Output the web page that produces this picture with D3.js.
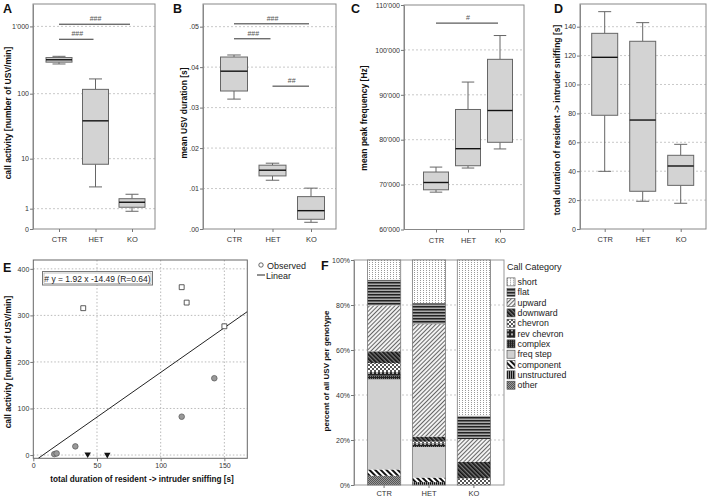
<!DOCTYPE html>
<html><head><meta charset="utf-8">
<script src="https://cdn.jsdelivr.net/npm/d3@7"></script>
<style>body{margin:0;background:#fff} text{font-family:"Liberation Sans",Arial,sans-serif}</style>
</head><body><svg id="c" width="708" height="501"></svg>
<script>
// ---------- DATA ----------
const categories = ["CTR","HET","KO"];
// box statistics: [min, q1, median, q3, max]
const callActivityStats = [[277,295,320,345,360],[3.2,8.1,39,116,166],[0.83,1.10,1.49,1.81,2.27]];
const usvDurationStats = [[0.0321,0.0341,0.0390,0.0425,0.0430],[0.01205,0.01312,0.01453,0.01577,0.01626],[0.00166,0.0024,0.00453,0.0080,0.0101]];
const peakFreqStats = [[68320,68840,70470,72800,73900],[73690,74200,78000,86730,92840],[77940,79420,86500,97900,103200]];
const sniffStats = [[39.9,78.7,118.8,135.4,150.4],[19.2,26.1,75.4,129.9,142.8],[17.8,30.2,43.6,51.0,58.6]];

const callActivityTicks = [0,1,10,100,1000];
const callActivityTickLabels = ["0","1","10","100","1'000"];
const usvDurationTicks = [0,0.01,0.02,0.03,0.04,0.05];
const usvDurationTickLabels = [".00",".01",".02",".03",".04",".05"];
const peakFreqTicks = [60000,70000,80000,90000,100000,110000];
const peakFreqTickLabels = ["60'000","70'000","80'000","90'000","100'000","110'000"];
const sniffTicks = [0,20,40,60,80,100,120,140];
const sniffTickLabels = ["0","20","40","60","80","100","120","140"];

// significance bars: [from, to, level value, label]
const callActivitySig = [["CTR","KO",1078,"###"],["CTR","HET",645,"###"]];
const usvDurationSig = [["CTR","KO",0.0507,"###"],["CTR","HET",0.0470,"###"],["HET","KO",0.0353,"##"]];
const peakFreqSig = [["CTR","KO",105970,"#"]];

// scatter E
const ctrSniff = [39.2,116.5,120.4,150.0];
const ctrCalls = [315.5,360.6,327.5,276.6];
const hetSniff = [16.5,18.3,33.0,116.5,142.1];
const hetCalls = [2.0,3.5,18.6,82.4,165.0];
const koSniff = [42.7,58.1];
const koCalls = [1.5,0.8];
const scatterXTicks = [0,50,100,150];
const scatterYTicks = [0,100,200,300,400];
const fitSlope = 1.92, fitIntercept = -14.49, fitR = 0.64;

// stacked F (top to bottom = legend order)
const callCategories = ["short","flat","upward","downward","chevron","rev chevron","complex","freq step","component","unstructured","other"];
const ctrPercent = [8.8,11.4,20.4,5.2,4.0,1.6,1.6,40.1,2.8,0,4.1];
const hetPercent = [19.2,9.3,50.0,2.2,0.8,0.7,0.9,13.6,2.0,1.3,0];
const koPercent  = [69.2,10.4,10.1,7.3,3.0,0,0,0,0,0,0];
const percentTicks = [0,20,40,60,80,100];
const percentTickLabels = ["0%","20%","40%","60%","80%","100%"];

// ---------- DRAW ----------
const FONT = '"Liberation Sans", Arial, sans-serif';
const svg = d3.select("#c");
const defs = svg.append("defs");

function styleAxis(g, fs){
  g.attr("font-family", FONT).attr("font-size", fs||7);
  g.selectAll(".tick line").attr("stroke","#777");
  g.selectAll(".tick text").attr("fill","#333");
}
function panelLabel(t,x,y){
  svg.append("text").attr("x",x).attr("y",y).text(t)
    .attr("font-size",12.5).attr("font-weight","bold").attr("fill","#111");
}
function yTitle(t,x,cy,size){
  svg.append("text").attr("transform",`translate(${x},${cy}) rotate(-90)`)
    .attr("text-anchor","middle").attr("font-size",size).attr("font-weight","bold")
    .attr("fill","#111").text(t);
}

function boxPanel(o){
  const [x0,x1,y0,y1] = o.frame;
  const x = d3.scalePoint().domain(categories).range([x0+o.gapL, x1-o.gapR]);
  const y = o.y.range([y1,y0]);
  const g = svg.append("g");
  // grid
  g.selectAll("line.grid").data(o.ticks.slice(1).filter(t=>y(t)>y0+1)).join("line")
    .attr("x1",x0).attr("x2",x1).attr("y1",d=>y(d)).attr("y2",d=>y(d))
    .attr("stroke","#bbb").attr("stroke-width",0.8).attr("stroke-dasharray","2,2");
  // frame
  g.append("rect").attr("x",x0).attr("y",y0).attr("width",x1-x0).attr("height",y1-y0)
    .attr("fill","none").attr("stroke","#888");
  // y axis
  const ya = g.append("g").attr("transform",`translate(${x0},0)`)
    .call(d3.axisLeft(y).tickValues(o.ticks).tickFormat((d,i)=>o.tickLabels[i]).tickSize(3).tickSizeOuter(0).tickPadding(1));
  ya.select(".domain").attr("stroke","#888");
  styleAxis(ya,7);
  // x axis
  const xa = g.append("g").attr("transform",`translate(0,${y1})`)
    .call(d3.axisBottom(x).tickSize(3).tickSizeOuter(0).tickPadding(5));
  xa.select(".domain").remove();
  styleAxis(xa,7.5);
  // boxes
  const bw = o.bw, cw = bw*0.5;
  const data = categories.map((c,i)=>({c, s:o.stats[i]}));
  const b = g.selectAll("g.box").data(data).join("g");
  b.append("line").attr("x1",d=>x(d.c)).attr("x2",d=>x(d.c)).attr("y1",d=>y(d.s[0])).attr("y2",d=>y(d.s[1])).attr("stroke","#666");
  b.append("line").attr("x1",d=>x(d.c)).attr("x2",d=>x(d.c)).attr("y1",d=>y(d.s[3])).attr("y2",d=>y(d.s[4])).attr("stroke","#666");
  b.append("line").attr("x1",d=>x(d.c)-cw/2).attr("x2",d=>x(d.c)+cw/2).attr("y1",d=>y(d.s[0])).attr("y2",d=>y(d.s[0])).attr("stroke","#666");
  b.append("line").attr("x1",d=>x(d.c)-cw/2).attr("x2",d=>x(d.c)+cw/2).attr("y1",d=>y(d.s[4])).attr("y2",d=>y(d.s[4])).attr("stroke","#666");
  b.append("rect").attr("x",d=>x(d.c)-bw/2).attr("width",bw).attr("y",d=>y(d.s[3])).attr("height",d=>y(d.s[1])-y(d.s[3]))
    .attr("fill","#d3d3d3").attr("stroke","#666");
  b.append("line").attr("x1",d=>x(d.c)-bw/2).attr("x2",d=>x(d.c)+bw/2).attr("y1",d=>y(d.s[2])).attr("y2",d=>y(d.s[2])).attr("stroke","#111").attr("stroke-width",1.4);
  // significance
  (o.sig||[]).forEach(s=>{
    const xa1 = x(s[0]), xb = x(s[1]), yy = y(s[2]);
    g.append("line").attr("x1",xa1).attr("x2",xb-2).attr("y1",yy).attr("y2",yy).attr("stroke","#333").attr("stroke-width",1);
    g.append("text").attr("x",(xa1+xb)/2).attr("y",yy-3).attr("text-anchor","middle")
      .attr("font-size",7).attr("fill","#555").text(s[3]);
  });
}

// A
boxPanel({frame:[33,155,4,229], gapL:26, gapR:23, bw:26,
  y:d3.scaleSymlog().constant(1).domain([0,2149]),
  ticks:callActivityTicks, tickLabels:callActivityTickLabels, stats:callActivityStats, sig:callActivitySig});
panelLabel("A",3,13);
yTitle("call activity [number of USV/min]",10.5,113,8.5);

// B
boxPanel({frame:[203,336,4,229], gapL:31, gapR:25, bw:27,
  y:d3.scaleLinear().domain([0,0.0556]),
  ticks:usvDurationTicks, tickLabels:usvDurationTickLabels, stats:usvDurationStats, sig:usvDurationSig});
panelLabel("B",173,13);
yTitle("mean USV duration [s]",186.5,113,8.5);

// C
boxPanel({frame:[404,524,5,229.5], gapL:32, gapR:24, bw:25,
  y:d3.scaleLinear().domain([60000,110000]),
  ticks:peakFreqTicks, tickLabels:peakFreqTickLabels, stats:peakFreqStats, sig:peakFreqSig});
panelLabel("C",351,13);
yTitle("mean peak frequency [Hz]",366.5,118,8.5);

// D
boxPanel({frame:[580,706,4,229], gapL:24.7, gapR:25.3, bw:26,
  y:d3.scaleLinear().domain([0,155.7]),
  ticks:sniffTicks, tickLabels:sniffTickLabels, stats:sniffStats});
panelLabel("D",554,13);
yTitle("total duration of resident -> intruder sniffing [s]",560,120,8.5);

// ---------- E ----------
(function(){
  const x0=33.3,x1=247.3,y0=260,y1=458.3;
  const x = d3.scaleLinear().domain([0,168]).range([x0,x1]);
  const y = d3.scaleLinear().domain([-7,419]).range([y1,y0]);
  const g = svg.append("g");
  g.selectAll("line.gy").data(scatterYTicks).join("line")
    .attr("x1",x0).attr("x2",x1).attr("y1",d=>y(d)).attr("y2",d=>y(d))
    .attr("stroke","#aaa").attr("stroke-width",0.8).attr("stroke-dasharray","1.5,2");
  g.selectAll("line.gx").data(scatterXTicks.slice(1)).join("line")
    .attr("y1",y0).attr("y2",y1).attr("x1",d=>x(d)).attr("x2",d=>x(d))
    .attr("stroke","#aaa").attr("stroke-width",0.8).attr("stroke-dasharray","1.5,2");
  g.append("rect").attr("x",x0).attr("y",y0).attr("width",x1-x0).attr("height",y1-y0).attr("fill","none").attr("stroke","#666");
  const ya = g.append("g").attr("transform",`translate(${x0},0)`)
    .call(d3.axisLeft(y).tickValues(scatterYTicks).tickSize(3).tickSizeOuter(0).tickPadding(1));
  ya.select(".domain").remove(); styleAxis(ya,7);
  const xa = g.append("g").attr("transform",`translate(0,${y1})`)
    .call(d3.axisBottom(x).tickValues(scatterXTicks).tickSize(3).tickSizeOuter(0).tickPadding(2));
  xa.select(".domain").remove(); styleAxis(xa,7);
  // fit line
  defs.append("clipPath").attr("id","clipE").append("rect").attr("x",x0).attr("y",y0).attr("width",x1-x0).attr("height",y1-y0);
  const xs = (-7 - fitIntercept)/fitSlope, xe = 168;
  g.append("line").attr("clip-path","url(#clipE)")
    .attr("x1",x(xs)).attr("y1",y(fitSlope*xs+fitIntercept)).attr("x2",x(xe)).attr("y2",y(fitSlope*xe+fitIntercept))
    .attr("stroke","#222").attr("stroke-width",1);
  // points
  g.selectAll("path.sq").data(d3.zip(ctrSniff,ctrCalls)).join("path")
    .attr("d",d3.symbol(d3.symbolSquare,24)).attr("transform",d=>`translate(${x(d[0])},${y(d[1])})`)
    .attr("fill","#fff").attr("stroke","#333").attr("stroke-width",0.8);
  g.selectAll("circle.ht").data(d3.zip(hetSniff,hetCalls)).join("circle")
    .attr("cx",d=>x(d[0])).attr("cy",d=>y(d[1])).attr("r",2.8)
    .attr("fill","#999").attr("stroke","#555").attr("stroke-width",0.7);
  g.selectAll("path.tr").data(d3.zip(koSniff,koCalls)).join("path")
    .attr("d",d3.symbol(d3.symbolTriangle,18)).attr("transform",d=>`translate(${x(d[0])},${y(d[1])}) rotate(180)`)
    .attr("fill","#111");
  // equation box
  const eq = `# y = ${fitSlope.toFixed(2)} x ${fitIntercept.toFixed(2)} (R=${fitR.toFixed(2)})`;
  g.append("rect").attr("x",42.5).attr("y",271.5).attr("width",110).attr("height",13.5).attr("fill","#fff").attr("stroke","#777");
  g.append("rect").attr("x",44).attr("y",273).attr("width",107).attr("height",10.5).attr("fill","none").attr("stroke","#999").attr("stroke-width",0.6);
  g.append("text").attr("x",97.5).attr("y",281.5).attr("text-anchor","middle").attr("font-size",8.5).attr("fill","#222").text(eq);
  // legend
  g.append("circle").attr("cx",261).attr("cy",265).attr("r",2.2).attr("fill","#fff").attr("stroke","#444").attr("stroke-width",0.8);
  g.append("text").attr("x",267).attr("y",268.5).attr("font-size",9).attr("fill","#222").text("Observed");
  g.append("line").attr("x1",257).attr("x2",265).attr("y1",275).attr("y2",275).attr("stroke","#222");
  g.append("text").attr("x",266).attr("y",278.5).attr("font-size",9).attr("fill","#222").text("Linear");
})();
panelLabel("E",3,272);
yTitle("call activity [number of USV/min]",10.5,362,8.5);
svg.append("text").attr("x",142).attr("y",482).attr("text-anchor","middle").attr("font-size",8.2).attr("font-weight","bold").attr("fill","#111")
  .text("total duration of resident -> intruder sniffing [s]");

// ---------- F ----------
function mkPat(id,w,h,bg,fg,shapes,rot){
  const p = defs.append("pattern").attr("id",id).attr("patternUnits","userSpaceOnUse").attr("width",w).attr("height",h);
  if(rot) p.attr("patternTransform",`rotate(${rot})`);
  p.append("rect").attr("width",w).attr("height",h).attr("fill",bg);
  shapes.forEach(s=>p.append("rect").attr("x",s[0]).attr("y",s[1]).attr("width",s[2]).attr("height",s[3]).attr("fill",fg));
}
const patSpecs = {
  "short":[3,2,"#fff","#999",[[0,0,1,1]],0],
  "flat":[4,3,"#aaa","#222",[[0,0,4,1.5]],0],
  "upward":[3,3,"#f2f2f2","#666",[[0,0,1,3]],45],
  "downward":[3,3,"#777","#111",[[0,0,1.6,3]],-45],
  "chevron":[4,4,"#fff","#555",[[0,0,2,2],[2,2,2,2]],0],
  "rev chevron":[4,4,"#222","#aaa",[[0,0,2,2]],0],
  "complex":[2,2,"#222","#777",[[0,0,1,1]],0],
  "freq step":[4,4,"#d0d0d0","#d0d0d0",[],0],
  "component":[4,4,"#fff","#111",[[0,0,2,4]],-45],
  "unstructured":[2,2,"#999","#111",[[0,0,1,2]],0],
  "other":[2,2,"#999","#555",[[0,0,1,1],[1,1,1,1]],0]
};
const patId = k => "pat-" + k.replace(/\s+/g,"-");
callCategories.forEach(k=>{const s=patSpecs[k]; mkPat(patId(k),s[0],s[1],s[2],s[3],s[4],s[5]);});

(function(){
  const x0=354,x1=504,y0=260,y1=485;
  const x = d3.scaleBand().domain(categories).range([x0,x1]).paddingInner(0.26).paddingOuter(0.3);
  const y = d3.scaleLinear().domain([0,100]).range([y1,y0]);
  const g = svg.append("g");
  g.selectAll("line.grid").data(percentTicks.slice(1,-1)).join("line")
    .attr("x1",x0).attr("x2",x1).attr("y1",d=>y(d)).attr("y2",d=>y(d))
    .attr("stroke","#bbb").attr("stroke-width",0.8).attr("stroke-dasharray","2,2");
  g.append("rect").attr("x",x0).attr("y",y0).attr("width",x1-x0).attr("height",y1-y0).attr("fill","none").attr("stroke","#999");
  const ya = g.append("g").attr("transform",`translate(${x0},0)`)
    .call(d3.axisLeft(y).tickValues(percentTicks).tickFormat((d,i)=>percentTickLabels[i]).tickSize(3).tickSizeOuter(0).tickPadding(1));
  ya.select(".domain").attr("stroke","#888"); styleAxis(ya,7);
  const xa = g.append("g").attr("transform",`translate(0,${y1})`)
    .call(d3.axisBottom(x).tickSize(3).tickSizeOuter(0).tickPadding(3));
  xa.select(".domain").remove(); styleAxis(xa,7.5);
  const series = [ctrPercent,hetPercent,koPercent];
  const rows = categories.map((c,i)=>{const r={genotype:c}; callCategories.forEach((k,j)=>r[k]=series[i][j]); return r;});
  const stack = d3.stack().keys(callCategories.slice().reverse())(rows);
  stack.forEach(layer=>{
    g.selectAll(null).data(layer).join("rect")
      .attr("x",d=>x(d.data.genotype)).attr("width",x.bandwidth())
      .attr("y",d=>y(d[1])).attr("height",d=>Math.max(0,y(d[0])-y(d[1])))
      .attr("fill",`url(#${patId(layer.key)})`);
  });
  g.selectAll("rect.outline").data(categories).join("rect")
    .attr("x",d=>x(d)).attr("width",x.bandwidth()).attr("y",y(100)).attr("height",y(0)-y(100))
    .attr("fill","none").attr("stroke","#777").attr("stroke-width",0.8);
  // legend
  const lg = svg.append("g");
  lg.append("text").attr("x",507).attr("y",270).attr("font-size",9).attr("fill","#222").text("Call Category");
  const items = lg.selectAll("g.li").data(callCategories).join("g")
    .attr("transform",(d,i)=>`translate(507,${281.7+i*10.33})`);
  items.append("rect").attr("x",0).attr("y",-3.8).attr("width",8).attr("height",8)
    .attr("fill",d=>`url(#${patId(d)})`).attr("stroke","#444").attr("stroke-width",0.6);
  items.append("text").attr("x",10.5).attr("y",3.3).attr("font-size",8.8).attr("fill","#222").text(d=>d);
})();
panelLabel("F",321,270);
yTitle("percent of all USV per genotype",328.5,371,8);
</script></body></html>
